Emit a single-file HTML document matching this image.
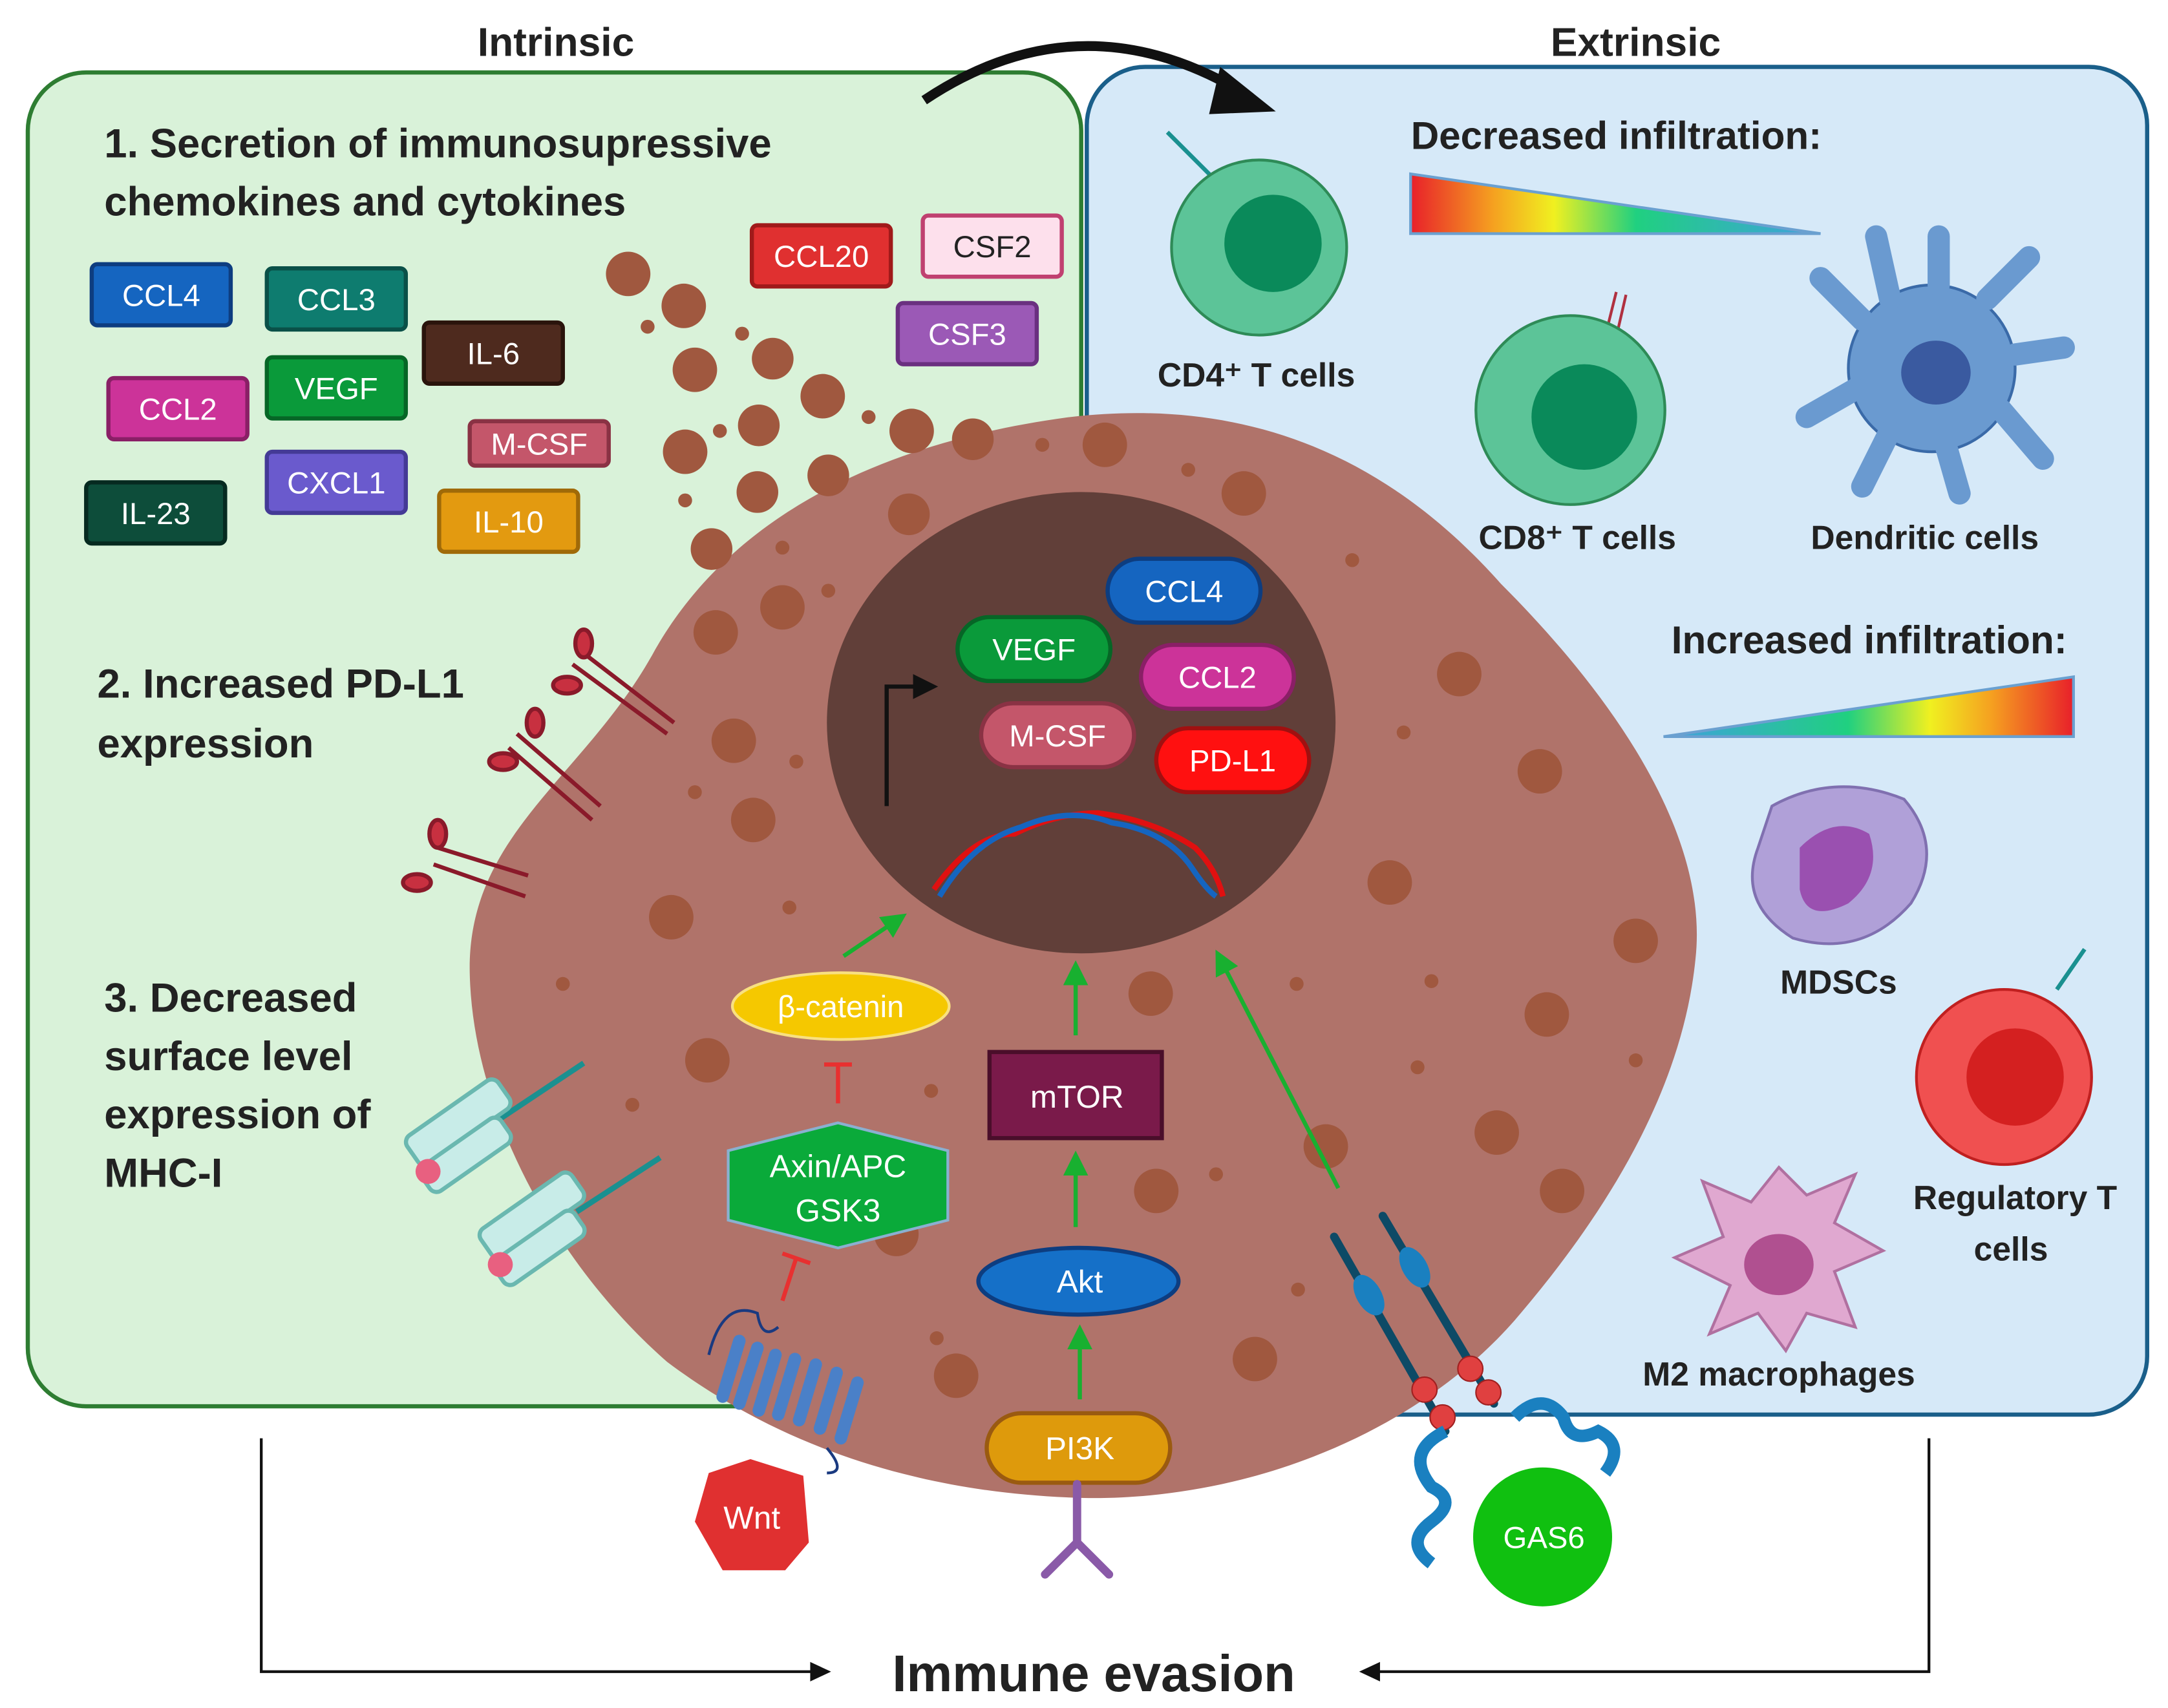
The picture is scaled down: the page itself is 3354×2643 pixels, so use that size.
<!DOCTYPE html>
<html><head><meta charset="utf-8"><style>
html,body{margin:0;padding:0;background:#fff}
svg{display:block}
text{font-family:"Liberation Sans",sans-serif}
</style></head><body>
<svg width="3354" height="2643" viewBox="0 0 1560 1229" xmlns="http://www.w3.org/2000/svg">
<defs>
<linearGradient id="g1" x1="0" x2="1"><stop offset="0" stop-color="#e8202a"/><stop offset="0.2" stop-color="#f5a020"/><stop offset="0.35" stop-color="#f0f020"/><stop offset="0.55" stop-color="#20d080"/><stop offset="1" stop-color="#40a0e0"/></linearGradient>
<linearGradient id="g2" x1="1" x2="0"><stop offset="0" stop-color="#e8202a"/><stop offset="0.2" stop-color="#f5a020"/><stop offset="0.35" stop-color="#f0f020"/><stop offset="0.55" stop-color="#20d080"/><stop offset="1" stop-color="#40a0e0"/></linearGradient>
<marker id="ah" markerWidth="6" markerHeight="6" refX="5" refY="3" orient="auto"><path d="M0,0L6,3L0,6z" fill="#18b030"/></marker>
<marker id="ak" markerWidth="6" markerHeight="6" refX="5" refY="3" orient="auto"><path d="M0,0L6,3L0,6z" fill="#111"/></marker>
</defs>
<rect x="20" y="52" width="758" height="960" rx="42" fill="#d9f2d9" stroke="#2e7d32" stroke-width="3"/>
<rect x="782" y="48" width="763" height="970" rx="42" fill="#d6e9f8" stroke="#1a5f8a" stroke-width="3"/>
<text x="400" y="40" font-size="29" font-weight="bold" text-anchor="middle" fill="#222">Intrinsic</text>
<text x="1177" y="40" font-size="29" font-weight="bold" text-anchor="middle" fill="#222">Extrinsic</text>
<path d="M665,72 Q780,-5 900,70" fill="none" stroke="#111" stroke-width="7"/>
<path d="M878,48 L918,80 L870,82z" fill="#111"/>
<text x="75" y="113" font-size="29.5" font-weight="bold" fill="#222">1. Secretion of immunosupressive</text>
<text x="75" y="155" font-size="29.5" font-weight="bold" fill="#222">chemokines and cytokines</text>
<text x="70" y="502" font-size="29.5" font-weight="bold" fill="#222">2. Increased PD-L1</text>
<text x="70" y="545" font-size="29.5" font-weight="bold" fill="#222">expression</text>
<text x="75" y="728" font-size="29.5" font-weight="bold" fill="#222">3. Decreased</text>
<text x="75" y="770" font-size="29.5" font-weight="bold" fill="#222">surface level</text>
<text x="75" y="812" font-size="29.5" font-weight="bold" fill="#222">expression of</text>
<text x="75" y="854" font-size="29.5" font-weight="bold" fill="#222">MHC-I</text>
<g font-size="22" text-anchor="middle" fill="#fff" stroke-width="3">
<rect x="66" y="190" width="100" height="44" rx="4" fill="#1565c0" stroke="#0d3d80"/><text x="116" y="220">CCL4</text>
<rect x="192" y="193" width="100" height="44" rx="4" fill="#0e7c6f" stroke="#0a5048"/><text x="242" y="223">CCL3</text>
<rect x="305" y="232" width="100" height="44" rx="4" fill="#4e2a1e" stroke="#2a140c"/><text x="355" y="262">IL-6</text>
<rect x="78" y="272" width="100" height="44" rx="4" fill="#cc3399" stroke="#8a1f66"/><text x="128" y="302">CCL2</text>
<rect x="192" y="257" width="100" height="44" rx="4" fill="#0a9a3a" stroke="#066626"/><text x="242" y="287">VEGF</text>
<rect x="338" y="303" width="100" height="32" rx="4" fill="#c4566a" stroke="#8a3244"/><text x="388" y="327">M-CSF</text>
<rect x="62" y="347" width="100" height="44" rx="4" fill="#0d4d3a" stroke="#062a20"/><text x="112" y="377">IL-23</text>
<rect x="192" y="325" width="100" height="44" rx="4" fill="#6a5acd" stroke="#443a96"/><text x="242" y="355">CXCL1</text>
<rect x="316" y="353" width="100" height="44" rx="4" fill="#e39a10" stroke="#a06a08"/><text x="366" y="383">IL-10</text>
<rect x="541" y="162" width="100" height="44" rx="4" fill="#e03030" stroke="#a01a1a"/><text x="591" y="192">CCL20</text>
<rect x="664" y="155" width="100" height="44" rx="4" fill="#fde0ec" stroke="#c04070"/><text x="714" y="185" fill="#222">CSF2</text>
<rect x="646" y="218" width="100" height="44" rx="4" fill="#9b59b6" stroke="#6a3080"/><text x="696" y="248">CSF3</text>
</g>
<path d="M470,470 C520,380 620,320 770,300 C900,285 1000,330 1080,420 C1160,500 1230,600 1220,690 C1210,790 1150,880 1090,950 C1020,1030 900,1080 780,1078 C660,1075 560,1040 480,980 C400,910 340,800 338,700 C336,600 420,560 470,470z" fill="#b0736a"/>
<g fill="#a0583f">
<circle cx="452" cy="197" r="16"/><circle cx="492" cy="220" r="16"/><circle cx="466" cy="235" r="5"/><circle cx="500" cy="266" r="16"/><circle cx="556" cy="258" r="15"/><circle cx="534" cy="240" r="5"/><circle cx="592" cy="285" r="16"/><circle cx="493" cy="325" r="16"/><circle cx="546" cy="306" r="15"/><circle cx="518" cy="310" r="5"/><circle cx="545" cy="354" r="15"/><circle cx="596" cy="342" r="15"/><circle cx="656" cy="310" r="16"/><circle cx="625" cy="300" r="5"/><circle cx="700" cy="316" r="15"/><circle cx="493" cy="360" r="5"/><circle cx="512" cy="395" r="15"/><circle cx="654" cy="370" r="15"/><circle cx="563" cy="394" r="5"/><circle cx="795" cy="320" r="16"/><circle cx="895" cy="355" r="16"/><circle cx="750" cy="320" r="5"/><circle cx="855" cy="338" r="5"/>
<circle cx="563" cy="437" r="16"/><circle cx="515" cy="455" r="16"/><circle cx="528" cy="533" r="16"/><circle cx="542" cy="590" r="16"/><circle cx="483" cy="660" r="16"/><circle cx="509" cy="763" r="16"/><circle cx="1050" cy="485" r="16"/><circle cx="1108" cy="555" r="16"/><circle cx="1000" cy="635" r="16"/><circle cx="1113" cy="730" r="16"/><circle cx="1177" cy="677" r="16"/><circle cx="1077" cy="815" r="16"/><circle cx="1124" cy="857" r="16"/><circle cx="832" cy="857" r="16"/><circle cx="828" cy="715" r="16"/><circle cx="954" cy="825" r="16"/><circle cx="688" cy="990" r="16"/><circle cx="903" cy="978" r="16"/><circle cx="645" cy="888" r="16"/>
<circle cx="596" cy="425" r="5"/><circle cx="573" cy="548" r="5"/><circle cx="500" cy="570" r="5"/><circle cx="568" cy="653" r="5"/><circle cx="405" cy="708" r="5"/><circle cx="455" cy="795" r="5"/><circle cx="973" cy="403" r="5"/><circle cx="1010" cy="527" r="5"/><circle cx="933" cy="708" r="5"/><circle cx="1030" cy="706" r="5"/><circle cx="1020" cy="768" r="5"/><circle cx="1177" cy="763" r="5"/><circle cx="875" cy="845" r="5"/><circle cx="934" cy="928" r="5"/><circle cx="674" cy="963" r="5"/><circle cx="670" cy="785" r="5"/><circle cx="760" cy="365" r="5"/>
</g>
<ellipse cx="778" cy="520" rx="183" ry="166" fill="#613f39"/>
<g font-size="22" text-anchor="middle" fill="#fff" stroke-width="3">
<rect x="797" y="402" width="110" height="46" rx="23" fill="#1565c0" stroke="#0d3d80"/><text x="852" y="433">CCL4</text>
<rect x="689" y="444" width="110" height="46" rx="23" fill="#0a9a3a" stroke="#066626"/><text x="744" y="475">VEGF</text>
<rect x="821" y="464" width="110" height="46" rx="23" fill="#cc3399" stroke="#8a1f66"/><text x="876" y="495">CCL2</text>
<rect x="706" y="506" width="110" height="46" rx="23" fill="#c4566a" stroke="#8a3244"/><text x="761" y="537">M-CSF</text>
<rect x="832" y="524" width="110" height="46" rx="23" fill="#ff1010" stroke="#a01010"/><text x="887" y="555">PD-L1</text>
</g>
<path d="M638,580 L638,494 L672,494" fill="none" stroke="#111" stroke-width="3" marker-end="url(#ak)"/>
<path d="M672,640 Q700,600 730,600 Q760,585 790,585 Q830,590 860,610 Q875,625 880,645" fill="none" stroke="#e01010" stroke-width="4"/>
<path d="M676,645 Q700,605 735,595 Q770,580 800,592 Q840,598 858,625 Q868,640 875,645" fill="none" stroke="#1565c0" stroke-width="4"/>
<line x1="607" y1="688" x2="650" y2="659" stroke="#18b030" stroke-width="3" marker-end="url(#ah)"/>
<ellipse cx="605" cy="724" rx="78" ry="24" fill="#f5c800" stroke="#f8e080" stroke-width="2"/>
<text x="605" y="732" font-size="22" fill="#fff" text-anchor="middle">β-catenin</text>
<path d="M603,794 V766 M593,766 H613" stroke="#e83030" stroke-width="3"/>
<polygon points="603,808 682,828 682,878 603,898 524,878 524,828" fill="#0aaa3a" stroke="#8ab0d0" stroke-width="2"/>
<text x="603" y="847" font-size="23" fill="#fff" text-anchor="middle">Axin/APC</text>
<text x="603" y="879" font-size="23" fill="#fff" text-anchor="middle">GSK3</text>
<path d="M563,936 L573,905 M563,902 L583,909" stroke="#e83030" stroke-width="3"/>
<line x1="774" y1="745" x2="774" y2="694" stroke="#18b030" stroke-width="3" marker-end="url(#ah)"/>
<rect x="712" y="757" width="124" height="62" fill="#7a1a4a" stroke="#4a0e2a" stroke-width="3"/>
<text x="775" y="797" font-size="23" fill="#fff" text-anchor="middle">mTOR</text>
<line x1="774" y1="883" x2="774" y2="831" stroke="#18b030" stroke-width="3" marker-end="url(#ah)"/>
<ellipse cx="776" cy="922" rx="72" ry="24" fill="#1570c8" stroke="#0d3d80" stroke-width="3"/>
<text x="777" y="930" font-size="23" fill="#fff" text-anchor="middle">Akt</text>
<line x1="777" y1="1007" x2="777" y2="956" stroke="#18b030" stroke-width="3" marker-end="url(#ah)"/>
<rect x="710" y="1017" width="132" height="50" rx="25" fill="#de9a0c" stroke="#9a5a10" stroke-width="3"/>
<text x="777" y="1050" font-size="23" fill="#fff" text-anchor="middle">PI3K</text>
<path d="M775,1068 V1110 M752,1133 L775,1110 L798,1133" fill="none" stroke="#8a5aa8" stroke-width="6" stroke-linecap="round"/>
<line x1="963" y1="855" x2="876" y2="686" stroke="#18b030" stroke-width="3" marker-end="url(#ah)"/>
<g stroke="#4a80c8" stroke-width="9" stroke-linecap="round">
<line x1="520" y1="1005" x2="532" y2="965"/><line x1="532" y1="1010" x2="545" y2="970"/><line x1="546" y1="1015" x2="558" y2="975"/><line x1="560" y1="1018" x2="572" y2="978"/><line x1="575" y1="1022" x2="587" y2="982"/><line x1="590" y1="1028" x2="602" y2="988"/><line x1="605" y1="1035" x2="617" y2="995"/>
</g>
<path d="M510,975 Q520,935 545,945 Q548,965 560,955 M595,1042 Q610,1060 595,1060" fill="none" stroke="#1a3a80" stroke-width="2"/>
<path d="M510,1060 L540,1050 L578,1062 L582,1110 L565,1130 L520,1130 L500,1095z" fill="#e03030"/>
<text x="541" y="1100" font-size="23" fill="#fff" text-anchor="middle">Wnt</text>
<g stroke="#0d4a66" stroke-width="6" stroke-linecap="round"><line x1="960" y1="890" x2="1040" y2="1030"/><line x1="995" y1="875" x2="1075" y2="1010"/></g>
<g fill="#1a80c0"><ellipse cx="985" cy="932" rx="9" ry="16" transform="rotate(-30 985 932)"/><ellipse cx="1018" cy="912" rx="9" ry="16" transform="rotate(-30 1018 912)"/></g>
<g fill="#e04040" stroke="#a02020"><circle cx="1025" cy="1000" r="9"/><circle cx="1038" cy="1020" r="9"/><circle cx="1058" cy="985" r="9"/><circle cx="1071" cy="1002" r="9"/></g>
<path d="M1040,1030 Q1010,1045 1030,1070 Q1050,1080 1030,1095 Q1010,1110 1030,1125" fill="none" stroke="#1a80c0" stroke-width="9"/>
<path d="M1090,1020 Q1110,1000 1125,1020 Q1130,1040 1150,1030 Q1170,1040 1155,1060" fill="none" stroke="#1a80c0" stroke-width="9"/>
<circle cx="1110" cy="1106" r="50" fill="#10c010"/>
<text x="1111" y="1114" font-size="22" fill="#fff" text-anchor="middle">GAS6</text>
<g stroke="#8a1a2a" stroke-width="3" fill="#c83040">
<path d="M420,470 L485,520 M412,478 L480,528" fill="none"/><ellipse cx="420" cy="463" rx="6" ry="10"/><ellipse cx="408" cy="493" rx="10" ry="6"/>
<path d="M372,528 L432,580 M366,538 L426,590" fill="none"/><ellipse cx="385" cy="520" rx="6" ry="10"/><ellipse cx="362" cy="548" rx="10" ry="6"/>
<path d="M315,610 L380,630 M312,622 L378,645" fill="none"/><ellipse cx="315" cy="600" rx="6" ry="10"/><ellipse cx="300" cy="635" rx="10" ry="6"/>
</g>
<g stroke="#6ab8b0" stroke-width="3" fill="#c8ece8">
<line x1="360" y1="805" x2="420" y2="765" stroke="#1a9090" stroke-width="4"/>
<rect x="290" y="795" width="80" height="25" rx="6" transform="rotate(-35 330 808)"/><rect x="300" y="820" width="70" height="22" rx="6" transform="rotate(-35 335 831)"/>
<circle cx="308" cy="843" r="9" fill="#e86080" stroke="none"/>
<line x1="415" y1="872" x2="475" y2="833" stroke="#1a9090" stroke-width="4"/>
<rect x="343" y="862" width="80" height="25" rx="6" transform="rotate(-35 383 875)"/><rect x="353" y="887" width="70" height="22" rx="6" transform="rotate(-35 388 898)"/>
<circle cx="360" cy="910" r="9" fill="#e86080" stroke="none"/>
</g>
<text x="1163" y="107" font-size="28" font-weight="bold" fill="#222" text-anchor="middle">Decreased infiltration:</text>
<polygon points="1015,125 1310,168 1015,168" fill="url(#g1)" stroke="#6aa0d0" stroke-width="2"/>
<text x="1345" y="470" font-size="28" font-weight="bold" fill="#222" text-anchor="middle">Increased infiltration:</text>
<polygon points="1492,487 1492,530 1197,530" fill="url(#g2)" stroke="#6aa0d0" stroke-width="2"/>
<line x1="840" y1="95" x2="875" y2="130" stroke="#1a9090" stroke-width="3"/>
<circle cx="906" cy="178" r="63" fill="#5cc498" stroke="#2e8b57" stroke-width="2"/><circle cx="916" cy="175" r="35" fill="#0a8a5a"/>
<text x="904" y="278" font-size="24" font-weight="bold" fill="#222" text-anchor="middle">CD4⁺ T cells</text>
<path d="M1150,262 L1163,210 M1158,264 L1170,212" stroke="#b03040" stroke-width="2"/>
<circle cx="1130" cy="295" r="68" fill="#5cc498" stroke="#2e8b57" stroke-width="2"/><circle cx="1140" cy="300" r="38" fill="#0a8a5a"/>
<text x="1135" y="395" font-size="24" font-weight="bold" fill="#222" text-anchor="middle">CD8⁺ T cells</text>
<g fill="#6a9ad0" stroke="#3a6aa8" stroke-width="2">
<circle cx="1390" cy="265" r="60"/>
<path d="M1340,230 L1310,200 M1360,215 L1350,170 M1395,205 L1395,170 M1430,215 L1460,185 M1450,255 L1485,250 M1440,295 L1470,330 M1400,320 L1410,355 M1360,310 L1340,350 M1335,280 L1300,300" stroke="#6a9ad0" stroke-width="16" stroke-linecap="round"/>
</g>
<ellipse cx="1393" cy="268" rx="25" ry="23" fill="#3a5aa0"/>
<text x="1385" y="395" font-size="24" font-weight="bold" fill="#222" text-anchor="middle">Dendritic cells</text>
<path d="M1275,580 Q1320,555 1370,575 Q1400,610 1375,650 Q1340,690 1290,675 Q1250,650 1265,610z" fill="#b0a0d8" stroke="#8070b0" stroke-width="2"/>
<path d="M1295,610 Q1320,585 1345,600 Q1355,630 1330,650 Q1300,665 1295,640z" fill="#9a50b0"/>
<text x="1323" y="715" font-size="24" font-weight="bold" fill="#222" text-anchor="middle">MDSCs</text>
<line x1="1480" y1="712" x2="1500" y2="683" stroke="#1a9090" stroke-width="3"/>
<circle cx="1442" cy="775" r="63" fill="#f05050" stroke="#c02020" stroke-width="2"/><circle cx="1450" cy="775" r="35" fill="#d42020"/>
<text x="1450" y="870" font-size="24" font-weight="bold" fill="#222" text-anchor="middle">Regulatory T</text>
<text x="1447" y="907" font-size="24" font-weight="bold" fill="#222" text-anchor="middle">cells</text>
<polygon points="1280,840 1300,860 1335,845 1320,880 1355,900 1320,915 1335,955 1300,945 1285,972 1265,945 1230,960 1245,925 1205,905 1240,890 1225,850 1260,865" fill="#e0a8d0" stroke="#b070a0" stroke-width="2"/>
<ellipse cx="1280" cy="910" rx="25" ry="22" fill="#b05090"/>
<text x="1280" y="997" font-size="24" font-weight="bold" fill="#222" text-anchor="middle">M2 macrophages</text>
<path d="M188,1035 V1203 H588" fill="none" stroke="#111" stroke-width="2"/><path d="M598,1203 L583,1196 L583,1210z" fill="#111"/>
<path d="M1388,1035 V1203 H990" fill="none" stroke="#111" stroke-width="2"/><path d="M978,1203 L993,1196 L993,1210z" fill="#111"/>
<text x="787" y="1217" font-size="37" font-weight="bold" fill="#222" text-anchor="middle">Immune evasion</text>
</svg>
</body></html>
